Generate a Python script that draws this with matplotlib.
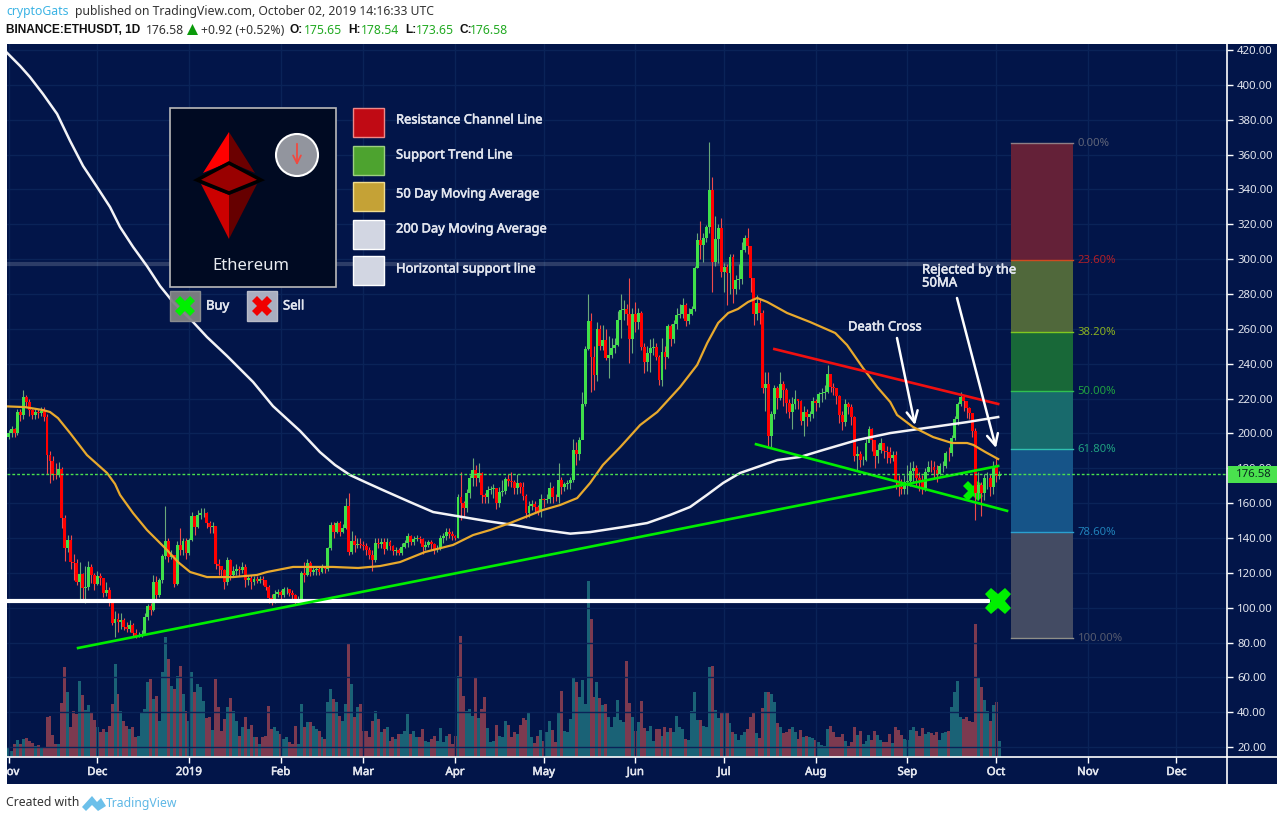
import matplotlib
matplotlib.use("Agg")
import matplotlib.pyplot as plt
import matplotlib.patheffects as pe
from matplotlib.patches import Rectangle, Polygon, Circle
from matplotlib.transforms import Bbox, TransformedBbox

plt.rcParams['font.family'] = ['Noto Sans', 'DejaVu Sans']

W, H = 1284, 821
NAVY = '#021549'
TXT = '#e3e6ef'
GREEN = '#3fe04a'
RED = '#ff0000'

# daily closes from 1 Nov 2018 to 2 Oct 2019
closes = [
    200,202.5,200,212.5,210.6,221.1,218.2,213.4,210.6,212.5,
    212,213,209.6,187.6,184.2,176.5,176,179.4,151.3,134,
    138.8,126.4,125.4,114.9,119.1,111.1,112,123.1,118.7,113.6,
    118.4,116.8,108.2,110.1,102.9,91,93.3,92,93,89,
    87.8,90,85.3,83.4,84.3,85.2,94.5,101,98.7,114.9,
    107.3,115.9,129.6,138.3,129.3,130.2,113.6,136,133,138.3,
    131.2,138.8,152.8,146.5,153.2,154.1,154.5,148.8,146.5,147,
    125,124,121.6,114.5,127.4,118.7,121,122,121.5,123.1,
    116,117,114.9,116.5,115.5,116.2,115.8,112,105.4,104.4,
    108,109,107.5,110.7,110.9,108.5,107.5,104.4,105,119.7,
    118.5,125.4,120.7,121.5,122,120.5,123,122.5,134,147.3,
    143.5,148.8,143.6,146,158.3,132.1,138.3,136,136.5,135.8,
    135.6,133.1,130.2,127.4,136.9,136.6,137.9,133.5,137.9,135.4,
    132.7,133.2,131.2,134.6,136.9,141.1,137.5,139.2,139.8,139.3,
    134.6,136,137.5,136.5,133.5,134.3,140.2,140.9,143.2,142.3,
    140.9,140.2,163.3,160.3,157,165.6,174.2,179,174.6,177.1,
    164.7,163.7,167.5,168,168.5,159.9,166.6,167.2,173.6,172.9,
    172.3,168.5,171.3,169.4,163.9,154.5,158.5,159.5,158,155.1,
    162.2,161.8,162.2,168.5,163.7,163.3,173.3,169.4,170.8,171.7,
    173.3,190.5,188.2,196,216.9,248.2,264.5,244,233.5,259.9,
    250.3,253.6,243.5,245,248.8,250.7,265.1,270.8,271.4,268.5,
    254.2,268.5,263.7,269.3,249.4,241.2,246,248.8,249.5,243.6,
    230.6,246.9,243.6,261.6,254,262.6,268,268.5,273.7,264.5,
    268.5,271.2,294.7,311,308,312,318.2,339.7,298.5,311.4,
    318,292.8,295.7,291.8,301,282.7,288,288.6,305.2,312.3,
    307.5,289.4,268.5,275,269,225.9,228.4,198.5,211.1,225.9,
    220.1,228.3,225,217.6,212.5,216.9,219.7,218.8,207.3,212.1,
    209.6,210.9,218.8,217.3,222.6,223,224,234.1,226.4,226,
    221.6,210.6,206.7,216.9,215,209.2,187,188,184.7,185,
    194.3,202.5,196.2,187,190.5,194.3,190,189.5,186,187.5,
    172,169,168,172,172.5,178.4,180,174.2,173.2,168.5,
    177.7,180.9,180.5,178.8,177,181.3,181.5,188.9,188.5,197.2,
    208,216.9,220.7,218.6,214.4,211.5,201.4,165.6,170.4,165.6,
    174.2,174.5,169,181.5,175.65,176.58,
]
first_open = 198
highs = [
    202,204,203,214,214,224.9,222,220,214,214,
    214,215,215,211,190,187,183,183.8,181,153,
    142,142,131,128,126,120,124,127,125,120,
    121,120,117,115,112,104,98,97,97,94,
    92,93,91,88,86,87,97,102,103,119,
    118,117,131,158.3,140,133,130,138,145.5,140,
    140,140,155,150,156,157,157,155,150,149,
    147,128,124,122,129,128,124,125,124,126,
    125,119,119,118,118,118,118,116,113,108,
    110,111,110,112,112,111,110,108,107,121,
    126,128,127,124,124,124,125,124,135,149,
    149,150,150,148,163,166,144,142,140,140,
    138,137,135,133,140,140,140,140,140,139,
    136,135,134,137,139,143,142,141,142,141,
    140,138,139,139,137,136,142,143,146,146,
    144,142,165,178,161,168,176,186,182,183,
    178,166,170,170,171,168,169,173,175,177,
    178,173,177,172,172,165,161,162,161,159,
    165,163,165,172,170,165,182.8,175,172,173,
    175,197,195,198,224,250,280,268.9,250,264,
    262,262,260,256,254.5,255,270,280,276.6,274,
    289,272,275.6,272,270,252,250,254,255,252,
    245,255,250,263,263,265,272,274,277.5,275,
    272,273,296,315,321.9,315,319.6,367,347,325,
    320,323.4,298,297,303,303,291,297,310,314,
    318,290.5,272,279.4,277,271,235,235,213,228,
    227,235,230,226,220,221,225,220,219,216,
    214,213,221,220,224,226,228,239,231,229,
    226,222,213,220,218,217,210,193,190,187,
    197,204.5,203,193,194,197.5,194,193,192,190,
    190,176,174,176,182,183.6,184,182,178,176,
    180,184,185,184,182,183,184,190,192,199,
    210,218,224,221,217,215,208,203,178,172,
    177,178,177,184,186,178.54,
]
lows = [
    197,198,198,199,207,208,215,210,208,208,
    209,210,207,176.5,171.7,173,174,175,146,127,
    132,122,116,113,103.4,105,103,110,114,110,
    113,113,106,107,101,90,83,86,88,87,
    86,86,84,82.5,83,83,85,93,96,98,
    105,106,114,128,126,128,112,113,130,130,
    128,130,138,142,146,151,152,146,143,143,
    122,119,118,111,113,116,118,119,118,120,
    112,113,111,113,114,114,113,110,103,101.5,
    103,106,105,106,108,107,105,102,103,104,
    115,118,118,119,119,119,120,120,121,133,
    140,143,141,143,145,130,131,132,134,134,
    133,130,128,121,126,134,134,131,133,133,
    130,130,130,130,134,135,136,136,138,137,
    131,133,135,133,131,132,133,137,139,140,
    139,139,140,150.3,152,155,163,170,170,172,
    160,160,160,165,163,156.4,158,164,165,170,
    169,165,165,166,162,151.3,152,156,155,153,
    152,158,160,160,160,161,160,165,167,168,
    168,172,182,185,205,216,248,224,225,230,
    248,248,242,231.6,243,246,250,255,265,262,
    240.6,246,258,260,248,234.9,236,235.4,245,242,
    227.8,227.4,237,243,250,252,260,266,266,261.8,
    263,268,270,295,300,298.5,310,315,281,296,
    298,290,281.3,273.7,280,275,280,283,286,304,
    303,281,262,265,263,223,213,193,192,208,
    214,219,216,212,209,202.5,214,214,205,198.5,
    204,207,209,213,215,218,220,223,224,222,
    217,206,202,204,211,205,184,178.4,181,182,
    184,197,190,180,183,189,186,183,183,184,
    168,164,165,165.5,165,170,172,169,167,165,
    167,178,178,174,172,176,178,180,184,187,
    196,205,216,213,209,208,198,150.3,162,152.6,
    162,168,164,165,172,173.65,
]
volumes = [
    27,20,40,52,40,55,57,50,42,35,
    37,28,30,122,125,67,40,40,162,270,
    195,90,138,130,228,186,143,156,135,113,
    90,75,85,75,95,160,280,190,140,110,
    95,85,90,60,65,135,145,225,235,175,
    185,110,255,360,295,215,205,245,275,190,
    140,110,255,195,220,210,170,118,120,82,
    235,150,80,115,150,178,140,110,65,90,
    120,85,97,62,60,40,60,65,155,85,
    90,80,70,55,60,45,40,95,40,160,
    90,105,105,95,85,80,60,55,165,205,
    175,165,125,110,160,340,220,120,150,160,
    80,80,60,110,140,115,75,85,90,50,
    60,55,70,
    70,80,130,70,78,60,60,85,50,47,
    55,63,48,87,45,63,70,40,63,245,
    365,185,140,145,125,237,118,145,180,87,
    47,50,97,65,62,110,97,60,77,70,
    97,117,112,135,60,42,63,82,50,77,
    110,83,47,137,200,80,77,115,238,225,
    182,232,160,530,415,182,225,178,158,160,
    122,90,122,172,112,105,290,162,122,80,
    107,170,88,80,95,50,85,85,65,92,
    75,88,77,125,92,85,55,52,140,197,
    112,
    113,95,92,272,275,143,117,132,132,135,
    102,75,70,53,67,77,85,122,135,72,
    57,147,195,195,190,165,102,90,72,75,
    85,90,75,55,82,60,63,60,57,52,
    47,37,35,85,93,75,62,62,70,50,
    33,45,90,67,78,40,48,67,52,78,
    67,52,45,45,70,43,90,82,68,55,
    52,82,90,78,63,87,70,77,73,67,
    75,53,72,75,78,150,195,230,120,115,
    120,108,105,400,240,212,173,140,110,158,165,50,
]
assert len(closes) == 336 and len(highs) == 336 and len(lows) == 336 and len(volumes) == 336

ma50_days = [-0.5,5.5,11.6,14,16.7,20.8,26.5,33.3,36,37.7,42.1,46.8,53.6,57.3,61.4,67.1,75.9,84,87.4,96.2,
             109.7,118.2,125.6,132.4,140.9,150.3,157.1,162.9,169.6,174.7,180.8,186.5,192.3,196.7,201,206.9,213.6,
             219.4,223.7,227.1,232.9,236.3,240,243.4,246.7,250.1,253.2,256.6,263.3,271.1,279.6,283.6,289,293.8,
             298.2,300.5,305.9,312.7,319.1,324.2,326.3,330.4,334.7]
ma50_vals = [215.5,215.1,213.4,212.3,208.8,200.2,187.6,177.3,171,164.7,154.3,144.6,133.1,126.2,120.5,117.6,117.6,118.8,120.5,123.4,
             123.4,122.8,123.9,126.2,132,136,141.7,144.6,148.6,152,156.1,158.9,162.9,171.6,181.9,192.2,204.8,
             212.3,220.3,226.6,239.3,251.9,263.4,269.1,271.4,275.4,277.7,275.4,269.1,263.9,257.6,250.7,237.5,226.6,
             218,210.6,203.7,197.9,194.5,194.5,193.4,189.3,185.3]
ma200_days = [-0.5,3.9,7.2,11.6,16.4,20.8,25.2,29.9,34.3,37.7,42.1,46.8,51.2,55.6,62.4,67.1,73.9,82.7,89.4,98.6,
              105.3,110.4,115.5,120.6,126.6,135.8,143.6,153.7,161.8,170.6,178.7,190,196.7,207.9,216,223.7,230.5,
              236.2,241.7,247.4,253.2,260,267.7,275.5,287,298.2,315.1,324.2,334.7]
ma200_vals = [418.3,410.8,404.5,394.8,383.3,367.8,353.4,341.4,329.9,318.4,307,296,284.6,275.4,263.9,255.3,244.4,229.5,215.7,201.4,
              189.3,181.9,176.1,172.1,167.5,160.6,154.9,152,149.7,147.5,145.1,142.5,143.4,146.3,148.6,153.2,157.8,
              164.7,171.6,177.3,180.7,184.7,186.5,190.5,196.2,200.2,204.3,206.5,209.4]

fib_labels = ['0.00%', '23.60%', '38.20%', '50.00%', '61.80%', '78.60%', '100.00%']
fib_prices = [366.5, 299.3, 258, 224.2, 190.9, 143.3, 82.4]
fib_fills = ['#642138', '#50683b', '#186838', '#186a6c', '#165488', '#434b63']
fib_lines = ['#8f7f86', '#d04a20', '#80c820', '#30c050', '#30c0b0', '#2aa0d0', '#8f8f88']
fib_text = ['#5f6478', '#b01f28', '#8ab020', '#20a040', '#20a080', '#2080b8', '#555a6e']

price_ticks = list(range(20, 421, 20))
month_days = [0, 30, 61, 92, 120, 151, 181, 212, 242, 273, 304, 334, 365, 395]
month_names = ['Nov', 'Dec', '2019', 'Feb', 'Mar', 'Apr', 'May', 'Jun', 'Jul', 'Aug', 'Sep', 'Oct', 'Nov', 'Dec']

legend_names = ['Resistance Channel Line', 'Support Trend Line', '50 Day Moving Average',
                '200 Day Moving Average', 'Horizontal support line']
legend_fills = ['#c00a14', '#4da32f', '#c5a236', '#d2d6e2', '#d2d6e2']
legend_edges = ['#ee8888', '#9bd080', '#f0dc90', '#ffffff', '#ffffff']

# slightly heavier light text on the dark chart
heavy = [pe.withStroke(linewidth=0.4, foreground=TXT)]

fig = plt.figure(figsize=(W / 100, H / 100), dpi=100, facecolor='white')
fig.patches.append(Rectangle((7 / W, 1 - 784 / H), 1270 / W, 740 / H, transform=fig.transFigure,
                             facecolor=NAVY, edgecolor='none', figure=fig, zorder=0))

ax = fig.add_axes([7 / W, 1 - 757.3 / H, 1220.3 / W, 713.3 / H])
ax.patch.set_visible(False)
ax.set_zorder(2)
ax.set_xlim(-0.54, 412.2)
ax.set_ylim(14.2, 423.4)

vol = ax.twinx()
vol.set_zorder(1)
vol.set_ylim(0, 2140)
vol.axis('off')

days = list(range(len(closes)))
opens = [first_open] + closes[:-1]
rising = [c >= o for c, o in zip(closes, opens)]

vol.bar(days, volumes, width=1.0, color=['#1a6276' if r else '#7c3a50' for r in rising], linewidth=0)

# grid
ax.set_yticks(price_ticks)
ax.set_yticklabels(['%.2f' % p for p in price_ticks], fontsize=8.2, color=TXT)
ax.set_xticks(month_days)
ax.set_xticklabels(month_names, fontsize=8.2, color=TXT)
for lab in ax.get_yticklabels() + ax.get_xticklabels():
    lab.set_path_effects(heavy)
ax.yaxis.tick_right()
ax.grid(True, color='#0a2358', lw=1)
ax.set_axisbelow(True)
ax.tick_params(axis='both', color='white', length=4, width=1, pad=3)
for side in ['left', 'top']:
    ax.spines[side].set_visible(False)
for side in ['right', 'bottom']:
    ax.spines[side].set_color('white')
    ax.spines[side].set_linewidth(1.2)

# the first Nov label is cut by the left edge of the chart
first_lab = ax.get_xticklabels()[0]
first_lab.set_clip_on(True)
first_lab.set_clip_box(TransformedBbox(Bbox([[7 / W, 0], [1, 1]]), fig.transFigure))

# faint line and horizontal support
ax.plot([-0.54, 339], [297.2, 297.2], color='white', alpha=0.17, lw=3, zorder=1)
ax.plot(326.3, 167, marker='X', ms=15, color='#00f000', mew=0, zorder=1.5)

# candles
for d, o, h, l, c, r in zip(days, opens, highs, lows, closes, rising):
    wick = '#6aa87a' if r else '#f04a4a'
    ax.plot([d, d], [l, h], color=wick, lw=0.8, zorder=2, solid_capstyle='butt')
    ax.bar(d, abs(c - o), bottom=min(o, c), width=0.98, color=GREEN if r else RED, linewidth=0, zorder=2.2)

ax.plot(ma200_days, ma200_vals, color='#f3f3f6', lw=1.8, zorder=3)
ax.plot(ma50_days, ma50_vals, color='#e8a92d', lw=1.6, zorder=3)

ax.plot([-0.54, 332], [104.1, 104.1], color='white', lw=3, zorder=3.2, solid_capstyle='butt')
ax.plot([23.5, 334.7], [76.9, 181.3], color='#00ee00', lw=1.9, zorder=3.2)
ax.plot([252.8, 337.7], [193.8, 155.6], color='#00ee00', lw=1.9, zorder=3.2)
ax.plot([259, 334.7], [248.4, 216.9], color='#f01010', lw=1.9, zorder=3.2)
ax.axhline(closes[-1], color='#4ae24e', lw=1, ls=(0, (2, 1.5)), zorder=3.4)
ax.plot(334.7, 104, marker='X', ms=19, color='#00f000', mew=0, zorder=3.5)

# fibonacci box
for i in range(6):
    ax.fill_between([338.9, 360], fib_prices[i + 1], fib_prices[i], color=fib_fills[i], lw=0, zorder=3)
for lab, p, lc, tc in zip(fib_labels, fib_prices, fib_lines, fib_text):
    ax.plot([338.9, 360], [p, p], color=lc, lw=1, zorder=3.1)
    ax.text(361.6, p, lab, color=tc, fontsize=8.2, va='center', ha='left')

# everything below is placed on the picture itself, in pixels
ov = fig.add_axes([0, 0, 1, 1])
ov.set_zorder(5)
ov.patch.set_visible(False)
ov.set_xlim(0, W)
ov.set_ylim(H, 0)
ov.axis('off')

# axis rules run on to the edge of the dark band
ov.plot([1227.3, 1227.3], [757, 784], color='white', lw=1.2)
ov.plot([1227, 1277], [757.3, 757.3], color='white', lw=1.2)

ov.add_patch(Rectangle((170, 108), 166, 179, facecolor='#000a22', edgecolor='#b9b9b9', lw=1.2))
ov.add_patch(Polygon([(229, 132), (229, 162), (203, 173)], facecolor='#ff0000', edgecolor='none'))
ov.add_patch(Polygon([(229, 132), (255, 173), (229, 162)], facecolor='#6b0000', edgecolor='none'))
ov.add_patch(Polygon([(201, 184), (229, 195), (229, 239)], facecolor='#cc0000', edgecolor='none'))
ov.add_patch(Polygon([(229, 195), (257, 184), (229, 239)], facecolor='#660000', edgecolor='none'))
ov.add_patch(Polygon([(197, 180), (229, 163), (261, 180), (229, 193)], facecolor='#990000', edgecolor='black', lw=2.5))
ov.add_patch(Circle((297, 155), 21, facecolor='#92959e', edgecolor='white', lw=1.5))
ov.annotate('', xy=(297, 168), xytext=(297, 141), arrowprops=dict(arrowstyle='->', color='#f04a40', lw=1.3, mutation_scale=14))
ov.text(251, 266, 'Ethereum', color='#e8ebf0', fontsize=12, ha='center', va='center')

ov.add_patch(Rectangle((170, 291), 30, 30, facecolor='#7f8183', edgecolor='#8f9193', lw=1, alpha=0.95))
ov.add_patch(Rectangle((247, 291), 30, 30, facecolor='#a9aec0', edgecolor='#b9bcc8', lw=1))
ov.plot(185, 306, marker='X', ms=15, color='#00f000', mew=0)
ov.plot(262, 306, marker='X', ms=15, color='#f00000', mew=0)
ov.text(206, 306, 'Buy', color=TXT, fontsize=9.4, va='center', path_effects=heavy)
ov.text(283, 306, 'Sell', color=TXT, fontsize=9.4, va='center', path_effects=heavy)

swatch_tops = [108, 146, 182, 220, 256]
label_ys = [120, 155, 194, 229, 269]
for t, ly, name, fc, ec in zip(swatch_tops, label_ys, legend_names, legend_fills, legend_edges):
    ov.add_patch(Rectangle((353, t), 31, 29.5, facecolor=fc, edgecolor=ec, lw=1))
    ov.text(396, ly, name, color=TXT, fontsize=9.3, va='center', path_effects=heavy)

arrow = dict(arrowstyle='->', color='white', lw=1.8, mutation_scale=20, shrinkA=0, shrinkB=0)
ov.annotate('', xy=(915, 425), xytext=(897, 338), arrowprops=arrow)
ov.annotate('', xy=(996, 448), xytext=(957, 298), arrowprops=arrow)
ov.text(848, 327, 'Death Cross', color=TXT, fontsize=9.3, va='center', path_effects=heavy)
ov.text(922, 270, 'Rejected by the', color=TXT, fontsize=9.4, va='center', path_effects=heavy)
ov.text(922, 283, '50MA', color=TXT, fontsize=9.4, va='center', path_effects=heavy)

# last price tag
ov.add_patch(Rectangle((1228, 466), 49, 17, facecolor='#4ae24e', edgecolor='none'))
ov.text(1236, 474.5, '%.2f' % closes[-1], color='#0a2a20', fontsize=8.2, va='center')

# header
def header(x, y, s, color='#222222', bold=False):
    if bold:
        ov.text(x, y, s, color=color, fontsize=8.6, va='center', family='Liberation Sans', fontweight='bold')
    else:
        ov.text(x, y, s, color=color, fontsize=8.8, va='center')

GR = '#22aa22'
header(6, 12, 'cryptoGats', '#3bb3e4')
header(75, 12, 'published on TradingView.com, October 02, 2019 14:16:33 UTC', '#333333')
header(6, 30, 'BINANCE:ETHUSDT, 1D', '#111111', True)
header(146, 30, '176.58', '#333333')
ov.add_patch(Polygon([(187, 35), (198, 35), (192.5, 24)], facecolor='#0a9a0a', edgecolor='none'))
header(201, 30, '+0.92 (+0.52%)', '#333333')
header(290, 30, 'O:', '#111111', True)
header(304, 30, '175.65', GR)
header(348, 30, 'H:', '#111111', True)
header(361, 30, '178.54', GR)
header(405, 30, 'L:', '#111111', True)
header(416, 30, '173.65', GR)
header(459, 30, 'C:', '#111111', True)
header(470, 30, '176.58', GR)

# footer
header(6, 803, 'Created with', '#333333')
ov.add_patch(Polygon([(82, 807), (92, 796), (97, 802), (101, 798), (106, 806), (98, 811), (92, 805), (86, 811)],
                     facecolor='#6cc0ea', edgecolor='none'))
header(106, 803, 'TradingView', '#5fb8e6')

fig.savefig('out.png', dpi=100, facecolor='white')
